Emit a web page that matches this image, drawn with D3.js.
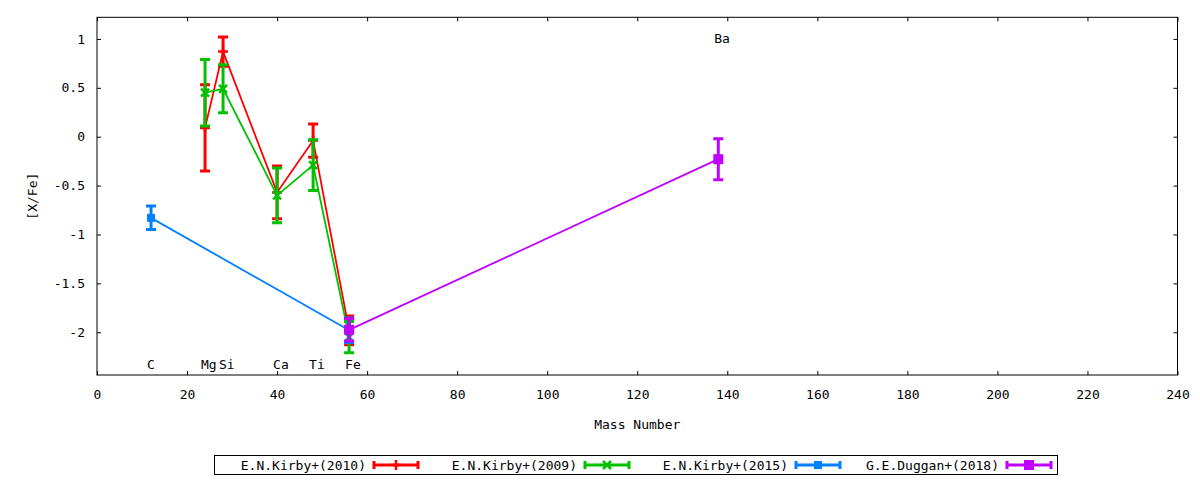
<!DOCTYPE html>
<html>
<head>
<meta charset="utf-8">
<script src="https://cdn.jsdelivr.net/npm/d3@7"></script>
<style>
  body { margin: 0; background: #fff; }
  svg { display: block; font-family: "DejaVu Sans Mono", monospace; font-size: 13px; }
</style>
</head>
<body>
<svg></svg>
<script>
// element labels drawn inside the plot
const elements = ["C", "Mg", "Si", "Ca", "Ti", "Fe", "Ba"];
const elementMass = [12, 24, 28, 40, 48, 56, 138];
const elementLabelY = [-2.325, -2.325, -2.325, -2.325, -2.325, -2.325, 1.013];

// series: mass number, [X/Fe], error
const kirby2010Mass = [24, 28, 40, 48, 56];
const kirby2010Val = [0.09, 0.87, -0.57, -0.04, -1.98];
const kirby2010Err = [0.44, 0.15, 0.27, 0.17, 0.147];

const kirby2009Mass = [24, 28, 40, 48, 56];
const kirby2009Val = [0.45, 0.49, -0.6, -0.29, -2.05];
const kirby2009Err = [0.34, 0.245, 0.28, 0.26, 0.16];

const kirby2015Mass = [12, 56];
const kirby2015Val = [-0.83, -1.98];
const kirby2015Err = [0.12, 0.125];

const duggan2018Mass = [56, 138];
const duggan2018Val = [-1.975, -0.23];
const duggan2018Err = [0.115, 0.21];

const seriesNames = ["E.N.Kirby+(2010)", "E.N.Kirby+(2009)", "E.N.Kirby+(2015)", "G.E.Duggan+(2018)"];
const seriesColors = ["#ff0000", "#00c000", "#0080ff", "#c000ff"];
const seriesMarkers = ["plus", "cross", "square", "bigsquare"];

const xTicks = d3.range(0, 241, 20);
const yTicks = [-2, -1.5, -1, -0.5, 0, 0.5, 1];

const size = { w: 1200, h: 480 };
const plot = { l: 97, r: 1177.5, t: 17.3, b: 375 };
const svg = d3.select("svg").attr("width", size.w).attr("height", size.h);

const x = d3.scaleLinear().domain([0, 240]).range([plot.l, plot.r]);
const y = d3.scaleLinear().domain([-2.437, 1.221]).range([plot.b, plot.t]);

// --------- AXES ----------
// ticks point inwards on all four sides
svg.append("g")
  .attr("transform", `translate(0,${plot.b})`)
  .call(d3.axisBottom(x).tickValues(xTicks).tickSize(-4).tickPadding(15))
  .call((g) => g.select(".domain").remove());
svg.append("g")
  .attr("transform", `translate(0,${plot.t})`)
  .call(d3.axisTop(x).tickValues(xTicks).tickSize(-4).tickFormat(""))
  .call((g) => g.select(".domain").remove());
svg.append("g")
  .attr("transform", `translate(${plot.l},0)`)
  .call(d3.axisLeft(y).tickValues(yTicks).tickSize(-4).tickPadding(12).tickFormat((d) => String(d)))
  .call((g) => g.select(".domain").remove());
svg.append("g")
  .attr("transform", `translate(${plot.r},0)`)
  .call(d3.axisRight(y).tickValues(yTicks).tickSize(-4).tickFormat(""))
  .call((g) => g.select(".domain").remove());

svg.selectAll(".tick text").attr("font-family", "DejaVu Sans Mono").attr("font-size", 13).attr("fill", "#000");
svg.selectAll(".tick line").attr("stroke", "#000");

svg.append("rect")
  .attr("x", plot.l).attr("y", plot.t)
  .attr("width", plot.r - plot.l).attr("height", plot.b - plot.t)
  .attr("fill", "none").attr("stroke", "#000").attr("stroke-width", 1);

svg.append("text")
  .attr("x", (plot.l + plot.r) / 2).attr("y", 429)
  .attr("text-anchor", "middle")
  .text("Mass Number");
svg.append("text")
  .attr("transform", `translate(37,${(plot.t + plot.b) / 2}) rotate(-90)`)
  .attr("text-anchor", "middle")
  .text("[X/Fe]");

// --------- ELEMENT LABELS ----------
svg.append("g").selectAll("text")
  .data(elements)
  .join("text")
  .attr("x", (d, i) => x(elementMass[i]) - 4)
  .attr("y", (d, i) => y(elementLabelY[i]) + 5)
  .text((d) => d);

// --------- SERIES ----------
function drawMarker(g, type, color) {
  if (type === "plus") {
    g.append("path").attr("d", "M-5,0H5M0,-5V5").attr("stroke", color).attr("stroke-width", 2.5);
  } else if (type === "cross") {
    g.append("path").attr("d", "M-4,-4L4,4M-4,4L4,-4").attr("stroke", color).attr("stroke-width", 2.5);
  } else if (type === "square") {
    g.append("rect").attr("x", -4).attr("y", -4).attr("width", 8).attr("height", 8).attr("fill", color);
  } else {
    g.append("rect").attr("x", -5).attr("y", -5).attr("width", 10).attr("height", 10).attr("fill", color);
  }
}

const allSeries = [
  { mass: kirby2010Mass, val: kirby2010Val, err: kirby2010Err },
  { mass: kirby2009Mass, val: kirby2009Val, err: kirby2009Err },
  { mass: kirby2015Mass, val: kirby2015Val, err: kirby2015Err },
  { mass: duggan2018Mass, val: duggan2018Val, err: duggan2018Err },
];

const line = d3.line().x((d) => x(d[0])).y((d) => y(d[1]));

allSeries.forEach((s, k) => {
  const color = seriesColors[k];
  const pts = s.mass.map((m, i) => [m, s.val[i], s.err[i]]);
  const g = svg.append("g").attr("class", "series");

  g.append("path")
    .attr("d", line(pts))
    .attr("fill", "none")
    .attr("stroke", color)
    .attr("stroke-width", 1.8);

  // error bars with caps
  pts.forEach((p) => {
    const px = x(p[0]);
    const y1 = y(p[1] + p[2]);
    const y2 = y(p[1] - p[2]);
    g.append("path")
      .attr("d", `M${px},${y1}V${y2}M${px - 5},${y1}H${px + 5}M${px - 5},${y2}H${px + 5}`)
      .attr("fill", "none")
      .attr("stroke", color)
      .attr("stroke-width", 3);
    drawMarker(g.append("g").attr("transform", `translate(${px},${y(p[1])})`), seriesMarkers[k], color);
  });
});

// --------- LEGEND ----------
const legend = svg.append("g");
legend.append("rect")
  .attr("x", 214.5).attr("y", 455.5).attr("width", 843).attr("height", 19)
  .attr("fill", "none").attr("stroke", "#000");

seriesNames.forEach((name, k) => {
  const color = seriesColors[k];
  const x0 = 374 + k * 211;
  const ly = 465;
  legend.append("text")
    .attr("x", x0 - 8).attr("y", ly + 5)
    .attr("text-anchor", "end")
    .text(name);
  legend.append("path")
    .attr("d", `M${x0},${ly}H${x0 + 44}M${x0},${ly - 4}V${ly + 4}M${x0 + 44},${ly - 4}V${ly + 4}`)
    .attr("stroke", color)
    .attr("stroke-width", 3);
  drawMarker(legend.append("g").attr("transform", `translate(${x0 + 22},${ly})`), seriesMarkers[k], color);
});
</script>
</body>
</html>
